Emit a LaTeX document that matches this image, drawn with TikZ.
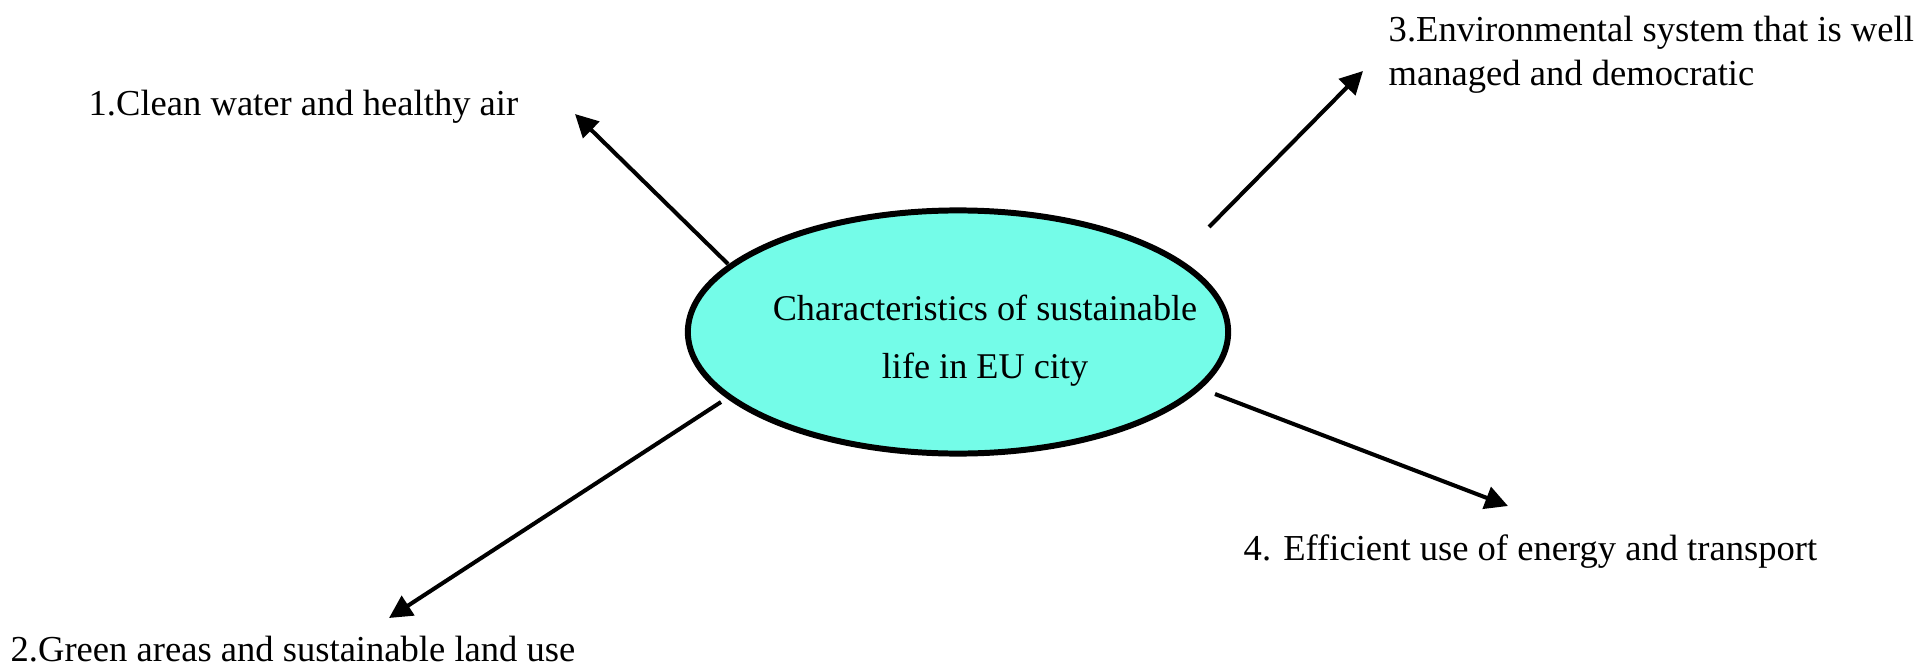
\documentclass[tikz,border=0pt]{standalone}
\usepackage{fontspec}
\setmainfont{Liberation Serif}
\usepackage{tikz}
\usetikzlibrary{positioning,arrows.meta,shapes.geometric}
\usetikzlibrary{calc}
\definecolor{cityaqua}{RGB}{116,252,232}
\tikzset{
  hub/.style={ellipse, draw=black, line width=1.7pt, fill=cityaqua,
    minimum width=5.4cm, minimum height=2.43cm, inner sep=0pt},
  hubtext/.style={align=center, inner sep=0pt,
    font=\fontsize{10.3}{16.5}\selectfont},
  item/.style={inner sep=0pt, anchor=base west, align=left,
    font=\fontsize{10.4}{12.6}\selectfont},
  branch/.style={line width=1.15pt, draw=black,
    -{Triangle[length=6.5pt,width=6.5pt]}}
}

\begin{document}
\begin{tikzpicture}[x=0.01cm, y=-0.01cm]
    \useasboundingbox (0,0) rectangle (1925,670);
    % centre
    \node[hub] (city) at (958,332) {};
    \node[hubtext] (citytext) at (985,341) {Characteristics of sustainable\\ life in EU city};
    % the four characteristics
    \node[item] (clean) at (88,116) {1.Clean water and healthy air};
    \node[item] (green) at (10,661) {2.Green areas and sustainable land use};
    \node[item] (envsys) at (1388,86) {3.Environmental system that is well\\managed and democratic};
    \node[item] (energy) at (1243,560) {4. Efficient use of energy and transport};
    % arrow ends
    \coordinate (s1) at (728,264);   \coordinate (t1) at (575,114);
    \coordinate (s2) at (721,402);   \coordinate (t2) at (389,618);
    \coordinate (s3) at (1209,227);  \coordinate (t3) at (1363,71);
    \coordinate (s4) at (1215,394);  \coordinate (t4) at (1508,506);
    \draw[branch] (s1) -- (t1);
    \draw[branch] (s2) -- (t2);
    \draw[branch] (s3) -- (t3);
    \draw[branch] (s4) -- (t4);
\end{tikzpicture}
\end{document}
